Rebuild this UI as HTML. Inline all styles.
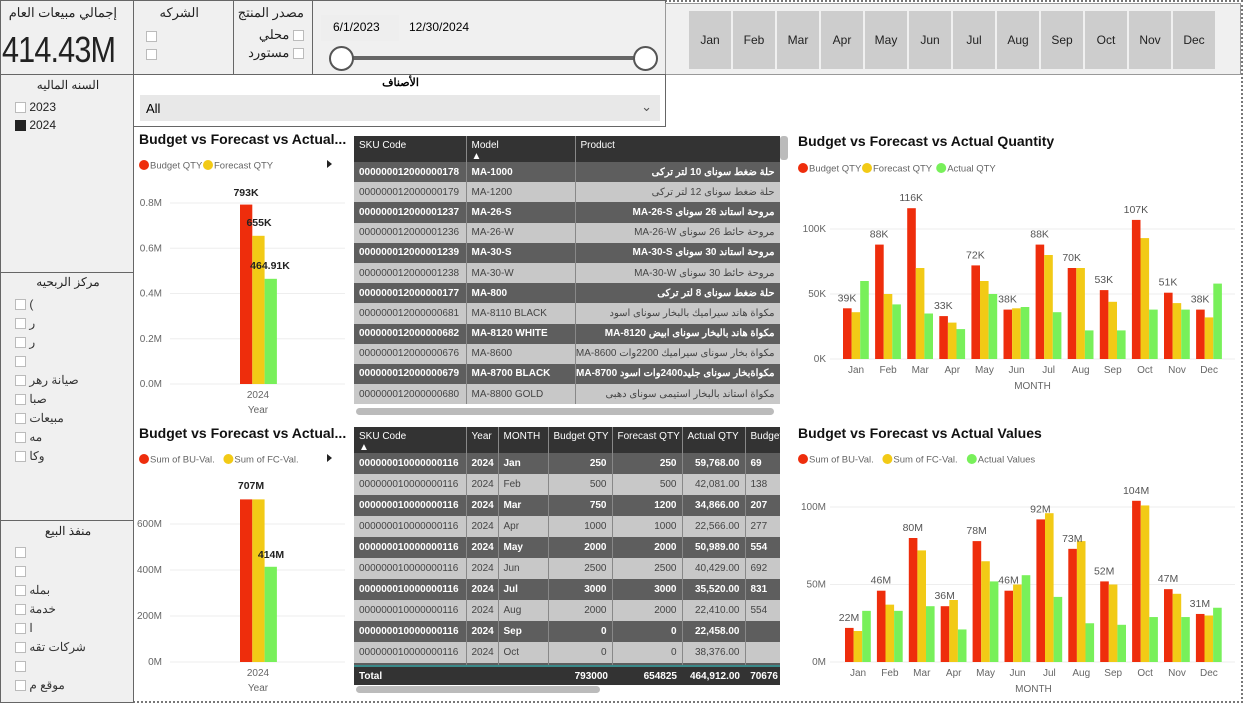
<!DOCTYPE html>
<html><head><meta charset="utf-8">
<style>
*{box-sizing:border-box;margin:0;padding:0}
body{width:1243px;height:703px;overflow:hidden;background:#fff;font-family:"Liberation Sans","Noto Sans CJK SC",sans-serif;position:relative}
.p{position:absolute;border:1px solid #666;background:#f0f0f0}
.ab{position:absolute}
.cb{display:inline-block;width:11px;height:11px;border:1px solid #bbb;background:#fff;vertical-align:middle}
.t{font-size:13px;color:#222}
.title{position:absolute;font-weight:bold;font-size:14px;color:#111;white-space:nowrap}
table{border-collapse:collapse;font-size:10px;font-family:"Liberation Sans","Noto Sans CJK SC",sans-serif}
td,th{padding:0 5px;white-space:nowrap;overflow:hidden;border-right:1px solid #888}
th{background:#333;color:#fff;text-align:left;font-weight:normal;vertical-align:top;padding-top:4px}
tr.d td{background:#5e5e5e;color:#fff;font-weight:bold}
tr.l td{background:#c8c8c8;color:#444}
.r{text-align:right}
.mb{position:absolute;top:7px;width:42px;height:58px;background:#cdcdcd;font-size:12px;color:#222;text-align:center;line-height:58px}
</style></head><body>
<div style="position:absolute;inset:0;border:2px dotted #777;pointer-events:none"></div>

<div class="p" style="left:0;top:0;width:134px;height:75px">
 <div class="ab t" style="right:16px;top:4px;font-size:13px">إجمالي مبيعات العام</div>
 <div class="ab" style="left:1px;top:28px;font-size:36px;color:#222;letter-spacing:-1px;transform:scaleX(.85);transform-origin:left">414.43M</div>
</div>
<div class="p" style="left:133px;top:0;width:101px;height:75px">
 <div class="ab t" style="right:34px;top:4px">الشركه</div>
 <div class="ab" style="left:12px;top:27px"><span class="cb"></span></div>
 <div class="ab" style="left:12px;top:45px"><span class="cb"></span></div>
</div>
<div class="p" style="left:233px;top:0;width:80px;height:75px">
 <div class="ab t" style="right:8px;top:4px">مصدر المنتج</div>
 <div class="ab t" style="right:8px;top:26px">محلي <span class="cb"></span></div>
 <div class="ab t" style="right:8px;top:44px">مستورد <span class="cb"></span></div>
</div>
<div class="p" style="left:312px;top:0;width:354px;height:75px">
 <div class="ab" style="left:8px;top:14px;width:78px;height:26px;background:#eee;font-size:12px;line-height:24px;padding-left:12px">6/1/2023</div>
 <div class="ab" style="left:92px;top:14px;width:78px;height:26px;font-size:12px;line-height:24px;padding-left:4px">12/30/2024</div>
 <div class="ab" style="left:28px;top:55px;width:305px;height:4px;background:#666"></div>
 <div class="ab" style="left:16px;top:45px;width:25px;height:25px;border-radius:50%;border:2px solid #555;background:#fff"></div>
 <div class="ab" style="left:320px;top:45px;width:25px;height:25px;border-radius:50%;border:2px solid #555;background:#fff"></div>
</div>
<div class="p" style="left:665px;top:3px;width:576px;height:72px;border-color:#999">
 <div id="mbs"></div>
</div>

<div class="p" style="left:0;top:74px;width:134px;height:199px">
 <div class="ab t" style="left:0;width:134px;text-align:center;top:3px;font-size:12px">السنه الماليه</div>
 <div class="ab t" style="left:14px;top:25px;font-size:12px"><span class="cb"></span> 2023</div>
 <div class="ab t" style="left:14px;top:43px;font-size:12px"><span class="cb" style="background:#222;border-color:#222"></span> 2024</div>
</div>
<div class="p" style="left:0;top:272px;width:134px;height:249px">
 <div class="ab t" style="left:0;width:134px;text-align:center;top:2px;font-size:12px">مركز الربحيه</div>
 <div id="pc"></div>
</div>
<div class="p" style="left:0;top:520px;width:134px;height:183px">
 <div class="ab t" style="left:0;width:134px;text-align:center;top:3px;font-size:12px">منفذ البيع</div>
 <div id="so"></div>
</div>

<div class="p" style="left:133px;top:74px;width:533px;height:53px;background:#fff">
 <div class="ab" style="left:0;width:533px;text-align:center;top:1px;font-size:11px;font-weight:bold">الأصناف</div>
 <div class="ab" style="left:6px;top:20px;width:520px;height:26px;background:#e8e8e8;font-size:13px;line-height:28px;padding-left:6px">All<span style="position:absolute;right:8px;top:-2px;color:#555">&#8964;</span></div>
</div>

<svg id="chart" class="ab" style="left:0;top:0" width="1243" height="703"></svg>

<div class="ab" style="left:354px;top:136px;width:426px;height:270px;overflow:hidden">
<table id="t1" style="width:426px;table-layout:fixed"><colgroup><col style="width:112px"><col style="width:109px"><col style="width:205px"></colgroup></table>
</div>
<div class="ab" style="left:780px;top:136px;width:8px;height:24px;background:#bbb;border-radius:3px"></div>
<div class="ab" style="left:356px;top:408px;width:418px;height:7px;background:#bbb;border-radius:4px"></div>

<div class="ab" style="left:354px;top:427px;width:426px;height:259px;overflow:hidden">
<table id="t2" style="width:470px;table-layout:fixed"><colgroup><col style="width:112px"><col style="width:32px"><col style="width:50px"><col style="width:64px"><col style="width:70px"><col style="width:63px"><col style="width:79px"></colgroup></table>
</div>
<div class="ab" style="left:356px;top:686px;width:244px;height:7px;background:#bbb;border-radius:4px"></div>

<div class="title" style="left:139px;top:131px">Budget vs Forecast vs Actual...</div>
<div class="title" style="left:139px;top:425px">Budget vs Forecast vs Actual...</div>
<div class="title" style="left:798px;top:133px">Budget vs Forecast vs Actual Quantity</div>
<div class="title" style="left:798px;top:425px">Budget vs Forecast vs Actual Values</div>

<script>
const months=["Jan","Feb","Mar","Apr","May","Jun","Jul","Aug","Sep","Oct","Nov","Dec"];
const qtyBudget=[39,88,116,33,72,38,88,70,53,107,51,38];
const qtyForecast=[36,50,70,28,60,39,80,70,44,93,43,32];
const qtyActual=[60,42,35,23,50,40,36,22,22,38,38,58];
const valBudget=[22,46,80,36,78,46,92,73,52,104,47,31];
const valForecast=[20,37,72,40,65,50,96,78,50,101,44,30];
const valActual=[33,33,36,21,52,56,42,25,24,29,29,35];
const yearQty=[793,655,464.91];
const yearVal=[707,707,414];
const qtyTicks=[0,50,100];
const valTicks=[0,50,100];
const yqTicks=[0,0.2,0.4,0.6,0.8];
const yvTicks=[0,200,400,600];
const t1Rows=[["000000012000000178","MA-1000","حلة ضغط سوناى 10 لتر تركى"],["000000012000000179","MA-1200","حلة ضغط سوناى 12 لتر تركى"],["000000012000001237","MA-26-S","مروحة استاند 26 سوناى MA-26-S"],["000000012000001236","MA-26-W","مروحة حائط 26 سوناى MA-26-W"],["000000012000001239","MA-30-S","مروحة استاند 30 سوناى MA-30-S"],["000000012000001238","MA-30-W","مروحة حائط 30 سوناى MA-30-W"],["000000012000000177","MA-800","حلة ضغط سوناى 8 لتر تركى"],["000000012000000681","MA-8110 BLACK","مكواة هاند سيراميك بالبخار سوناى اسود"],["000000012000000682","MA-8120 WHITE","مكواة هاند بالبخار سوناى ابيض MA-8120"],["000000012000000676","MA-8600","مكواة بخار سوناى سيراميك 2200وات MA-8600"],["000000012000000679","MA-8700 BLACK","مكواةبخار سوناى جليد2400وات اسود MA-8700"],["000000012000000680","MA-8800 GOLD","مكواة استاند بالبخار استيمى سوناى دهبى"]];
const t2Budget=[250,500,750,1000,2000,2500,3000,2000,0,0,0];
const t2Forecast=[250,500,1200,1000,2000,2500,3000,2000,0,0,0];
const t2Actual=["59,768.00","42,081.00","34,866.00","22,566.00","50,989.00","40,429.00","35,520.00","22,410.00","22,458.00","38,376.00","37,000.00"];
const t2BudVal=["69","138","207","277","554","692","831","554","","",""];

const NS="http://www.w3.org/2000/svg";
const svg=document.getElementById('chart');
const RED="#EE2D0C",YEL="#F2CA16",GRN="#78F05A";
function el(tag,attrs,parent){const e=document.createElementNS(NS,tag);for(const k in attrs)e.setAttribute(k,attrs[k]);(parent||svg).appendChild(e);return e;}
function txt(x,y,s,opt){const e=el('text',Object.assign({x:x,y:y,'font-size':10,fill:'#666','font-family':'Liberation Sans, sans-serif'},opt||{}));e.textContent=s;return e;}
function legend(x,y,items){let cx=x;items.forEach((it,i)=>{const c=el('circle',{cx:cx+5,cy:y,r:5,fill:it[1]});


const t=txt(cx+11,y+3.5,it[0],{'font-size':9.5,fill:'#666'});


cx+=13+it[0].length*5.1;});}

function monthChart(o){
  const yS=v=>o.y0-(v/o.tmax)*(o.y0-o.yT);
  const xS=i=>o.x0+i*o.step;
  o.ticks.forEach(t=>{const l=el('line',{x1:o.gx1,x2:o.gx2,y1:yS(t),y2:yS(t),stroke:'#eee'});
    
    
    const tx=txt(o.gx1-4,yS(t)+3,t+o.unit,{'text-anchor':'end','font-size':10});
    
    });
  const series=[[o.b,RED],[o.f,YEL],[o.a,GRN]];
  months.forEach((m,i)=>{
    const cx=xS(i);
    series.forEach((s,j)=>{const v=s[0][i];const r=el('rect',{x:cx-13+j*8.6,y:yS(v),width:8.6,height:o.y0-yS(v),fill:s[1]});
      
      });
    const lb=txt(cx-9,yS(o.b[i])-7,o.b[i]+o.unit,{'text-anchor':'middle','font-size':10.5,fill:'#555'});
    
    
    const xl=txt(cx,o.y0+14,m,{'text-anchor':'middle','font-size':10});
    
    
  });
  const at=txt((o.x0+xS(11))/2,o.y0+30,'MONTH',{'text-anchor':'middle','font-size':10});
  
  
}
monthChart({x0:856,step:32.1,y0:359,yT:229,tmax:100,ticks:qtyTicks,unit:'K',gx1:830,gx2:1235,b:qtyBudget,f:qtyForecast,a:qtyActual});
monthChart({x0:858,step:31.9,y0:662,yT:507,tmax:100,ticks:valTicks,unit:'M',gx1:830,gx2:1235,b:valBudget,f:valForecast,a:valActual});
legend(798,168,[["Budget QTY",RED],["Forecast QTY",YEL],["Actual QTY",GRN]]);
legend(798,459,[["Sum of BU-Val.",RED],["Sum of FC-Val.",YEL],["Actual Values",GRN]]);
legend(139,165,[["Budget QTY",RED],["Forecast QTY",YEL]]);
legend(139,459,[["Sum of BU-Val.",RED],["Sum of FC-Val.",YEL]]);
el('path',{d:'M327,160 l5,4 l-5,4z',fill:'#222'});
el('path',{d:'M327,454 l5,4 l-5,4z',fill:'#222'});

function yearChart(o){
  const yS=v=>o.y0-(v/o.tmax)*(o.y0-o.yT);
  o.ticks.forEach(t=>{const l=el('line',{x1:170,x2:345,y1:yS(t),y2:yS(t),stroke:'#eee'});
    
    
    const tx=txt(162,yS(t)+3,o.fmt(t),{'text-anchor':'end','font-size':10});
    
    });
  [RED,YEL,GRN].forEach((c,j)=>{const v=o.vals[j]*o.k;const r=el('rect',{x:240+j*12.3,y:yS(v),width:12.3,height:o.y0-yS(v),fill:c});
    
    });
  o.labels.forEach((s,j)=>{const t=txt(o.lx[j],o.ly[j],s,{'text-anchor':'middle','font-size':10.5,fill:'#222','font-weight':'bold'});
    
    });
  const a=txt(258,o.y0+14,'2024',{'text-anchor':'middle'});
  
  
  const b=txt(258,o.y0+29,'Year',{'text-anchor':'middle'});
  
  
}
yearChart({y0:384,yT:203,tmax:0.8,k:0.001,ticks:yqTicks,fmt:t=>t.toFixed(1)+'M',vals:yearQty,labels:['793K','655K','464.91K'],lx:[246,259,270],ly:[196,226,269]});
yearChart({y0:662,yT:524,tmax:600,k:1,ticks:yvTicks,fmt:t=>t+'M',vals:yearVal,labels:['707M','414M'],lx:[251,271],ly:[489,558]});

const t1=document.getElementById('t1');
let h='<tr style="height:26px"><th>SKU Code</th><th>Model<br>▲</th><th>Product</th></tr>';
t1Rows.forEach((r,i)=>{h+=`<tr class="${i%2?'l':'d'}" style="height:20.2px"><td>${r[0]}</td><td>${r[1]}</td><td dir="rtl" style="text-align:right">${r[2]}</td></tr>`;});
t1.insertAdjacentHTML('beforeend',h);
const t2=document.getElementById('t2');
h='<tr style="height:26px"><th>SKU Code<br>▲</th><th>Year</th><th>MONTH</th><th>Budget QTY</th><th>Forecast QTY</th><th>Actual QTY</th><th>Budget Val</th></tr>';
t2Actual.forEach((a,i)=>{h+=`<tr class="${i%2?'l':'d'}" style="height:21px"><td>000000010000000116</td><td>2024</td><td>${months[i]}</td><td class="r">${t2Budget[i]}</td><td class="r">${t2Forecast[i]}</td><td class="r">${a}</td><td>${t2BudVal[i]}</td></tr>`;});

t2.insertAdjacentHTML('beforeend',h);
const wrap=t2.parentNode;
wrap.insertAdjacentHTML('beforeend','<div style="position:absolute;left:0;top:238px;width:426px;height:20px;background:#333;color:#fff;font-size:10px;font-weight:bold;line-height:20px;border-top:2px solid #3a8a8a"><span style="position:absolute;left:5px">Total</span><span style="position:absolute;right:172px">793000</span><span style="position:absolute;right:103px">654825</span><span style="position:absolute;right:40px">464,912.00</span><span style="position:absolute;right:2px">70676</span></div>');

const mbs=document.getElementById('mbs');
months.forEach((m,i)=>{const d=document.createElement('div');d.className='mb';d.style.left=(23+i*44)+'px';d.textContent=m;


mbs.appendChild(d);});
function boxes(id,top,n,labels){const c=document.getElementById(id);labels.forEach((s,i)=>{const d=document.createElement('div');d.className='ab t';d.style.left='14px';d.style.top=(top+i*19)+'px';d.style.fontSize='12px';d.innerHTML='<span class="cb"></span> <span style="color:#333">'+s+'</span>';


c.appendChild(d);});}
boxes('pc',24,9,['(','ر','ر','','صيانة رهر','صبا','مبيعات','مه','وكا']);
boxes('so',24,8,['','','بمله','خدمة','ا','شركات تقه','','موقع م']);
</script>
</body></html>
